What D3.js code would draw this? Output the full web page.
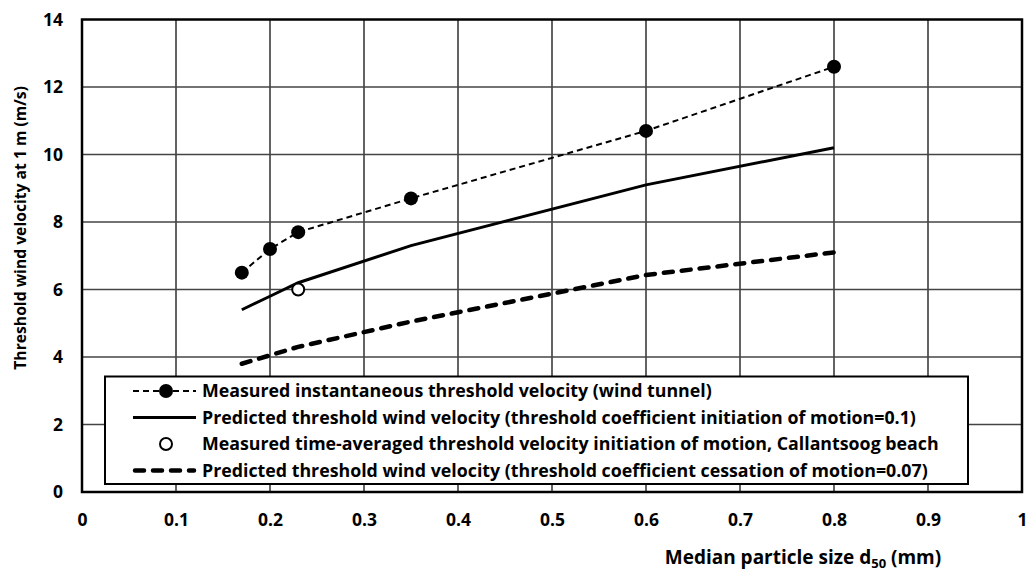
<!DOCTYPE html>
<html>
<head>
<meta charset="utf-8">
<script src="https://cdn.jsdelivr.net/npm/d3@7"></script>
<style>
  html, body { margin: 0; padding: 0; background: #fff; }
  svg { display: block; font-family: "Open Sans", sans-serif; font-weight: 700; }
</style>
</head>
<body>
<svg id="chart" width="1029" height="571"></svg>
<script>
// Median grain size d50 (mm)
const grainSizes = [0.17, 0.2, 0.23, 0.35, 0.6, 0.8];
// Measured instantaneous threshold velocity in the wind tunnel (m/s)
const measuredTunnel = [6.5, 7.2, 7.7, 8.7, 10.7, 12.6];
// Predicted threshold velocity, initiation coefficient 0.1 (m/s)
const predictedInitiation = [5.4, 5.8, 6.2, 7.3, 9.1, 10.2];
// Predicted threshold velocity, cessation coefficient 0.07 (m/s)
const predictedCessation = [3.8, 4.05, 4.3, 5.05, 6.43, 7.1];
// Field measurement at Callantsoog beach
const beachSize = [0.23];
const beachVelocity = [6.0];

const xTicks = [0, 0.1, 0.2, 0.3, 0.4, 0.5, 0.6, 0.7, 0.8, 0.9, 1];
const yTicks = [0, 2, 4, 6, 8, 10, 12, 14];

const legendLabels = [
  "Measured instantaneous threshold velocity (wind tunnel)",
  "Predicted threshold wind velocity (threshold coefficient initiation of motion=0.1)",
  "Measured time-averaged threshold velocity initiation of motion, Callantsoog beach",
  "Predicted threshold wind velocity (threshold coefficient cessation of motion=0.07)"
];

const svg = d3.select("#chart");
const plot = { left: 82, top: 19.5, right: 1022, bottom: 492 };

const x = d3.scaleLinear().domain([0, 1]).range([plot.left, plot.right]);
const y = d3.scaleLinear().domain([0, 14]).range([plot.bottom, plot.top]);

// Grid lines
const grid = svg.append("g");
grid.selectAll("line.v").data(xTicks.slice(1, -1)).join("line")
  .attr("x1", d => x(d)).attr("x2", d => x(d))
  .attr("y1", plot.top).attr("y2", plot.bottom)
  .attr("stroke", "#222").attr("stroke-width", 1.4);
grid.selectAll("line.h").data(yTicks.slice(1, -1)).join("line")
  .attr("y1", d => y(d)).attr("y2", d => y(d))
  .attr("x1", plot.left).attr("x2", plot.right)
  .attr("stroke", "#444").attr("stroke-width", 1.4);

// Axes with tick labels only
const xAxis = svg.append("g")
  .attr("transform", `translate(0,${plot.bottom})`)
  .call(d3.axisBottom(x).tickValues(xTicks).tickSize(0).tickPadding(22)
    .tickFormat(d => d === 0 ? "0" : d === 1 ? "1" : d3.format(".1f")(d)));
xAxis.select(".domain").remove();
xAxis.selectAll("text").attr("font-size", 17.5).attr("font-weight", 700)
  .attr("font-family", "'Open Sans', sans-serif").attr("fill", "#000");

const yAxis = svg.append("g")
  .attr("transform", `translate(${plot.left},0)`)
  .call(d3.axisLeft(y).tickValues(yTicks).tickSize(0).tickPadding(19));
yAxis.select(".domain").remove();
yAxis.selectAll("text").attr("font-size", 17.5).attr("font-weight", 700)
  .attr("font-family", "'Open Sans', sans-serif").attr("fill", "#000");

// Plot frame
svg.append("rect")
  .attr("x", plot.left).attr("y", plot.top)
  .attr("width", plot.right - plot.left).attr("height", plot.bottom - plot.top)
  .attr("fill", "none").attr("stroke", "#000").attr("stroke-width", 2.5);

const line = (vals) => d3.line()
  .x((d, i) => x(grainSizes[i]))
  .y(d => y(d))(vals);

// Predicted (cessation) - thick dashed
svg.append("path").attr("d", line(predictedCessation))
  .attr("fill", "none").attr("stroke", "#000").attr("stroke-width", 4.5)
  .attr("stroke-linecap", "round").attr("stroke-dasharray", "9,9");

// Predicted (initiation) - solid
svg.append("path").attr("d", line(predictedInitiation))
  .attr("fill", "none").attr("stroke", "#000").attr("stroke-width", 3);

// Measured wind tunnel - thin dashed with dots
svg.append("path").attr("d", line(measuredTunnel))
  .attr("fill", "none").attr("stroke", "#000").attr("stroke-width", 2)
  .attr("stroke-dasharray", "6,4");
svg.selectAll("circle.tunnel").data(measuredTunnel).join("circle")
  .attr("cx", (d, i) => x(grainSizes[i])).attr("cy", d => y(d))
  .attr("r", 7).attr("fill", "#000");

// Beach measurement - open circle
svg.selectAll("circle.beach").data(beachVelocity).join("circle")
  .attr("cx", (d, i) => x(beachSize[i])).attr("cy", d => y(d))
  .attr("r", 6).attr("fill", "#fff").attr("stroke", "#000").attr("stroke-width", 2);

// Legend
const lg = svg.append("g");
lg.append("rect").attr("x", 105).attr("y", 376.5).attr("width", 863).attr("height", 107.5)
  .attr("fill", "#fff").attr("stroke", "#000").attr("stroke-width", 2);
const rowY = [391, 417.5, 444, 470.5];
const sx0 = 133, sx1 = 196, sxm = 166;
// row 1
lg.append("line").attr("x1", sx0).attr("x2", sx1).attr("y1", rowY[0]).attr("y2", rowY[0])
  .attr("stroke", "#000").attr("stroke-width", 2).attr("stroke-dasharray", "6,4");
lg.append("circle").attr("cx", sxm).attr("cy", rowY[0]).attr("r", 7).attr("fill", "#000");
// row 2
lg.append("line").attr("x1", sx0).attr("x2", sx1).attr("y1", rowY[1]).attr("y2", rowY[1])
  .attr("stroke", "#000").attr("stroke-width", 3);
// row 3
lg.append("circle").attr("cx", sxm).attr("cy", rowY[2]).attr("r", 6)
  .attr("fill", "#fff").attr("stroke", "#000").attr("stroke-width", 2);
// row 4
lg.append("line").attr("x1", sx0 + 2).attr("x2", sx1 - 2).attr("y1", rowY[3]).attr("y2", rowY[3])
  .attr("stroke", "#000").attr("stroke-width", 4.5)
  .attr("stroke-linecap", "round").attr("stroke-dasharray", "9,9");
lg.selectAll("text").data(legendLabels).join("text")
  .attr("x", 202).attr("y", (d, i) => rowY[i])
  .attr("dy", "0.35em").attr("font-size", 17.8).attr("fill", "#000")
  .text(d => d);

// Axis titles
svg.append("text")
  .attr("transform", "translate(20,228) rotate(-90)")
  .attr("dy", "0.35em")
  .attr("text-anchor", "middle").attr("font-size", 15.7).attr("fill", "#000")
  .text("Threshold wind velocity at 1 m (m/s)");

const xt = svg.append("text").attr("x", 803).attr("y", 564)
  .attr("text-anchor", "middle").attr("font-size", 19).attr("fill", "#000");
xt.append("tspan").text("Median particle size d");
xt.append("tspan").attr("font-size", 13).attr("dy", 4).text("50");
xt.append("tspan").attr("dy", -4).text(" (mm)");
</script>
</body>
</html>
